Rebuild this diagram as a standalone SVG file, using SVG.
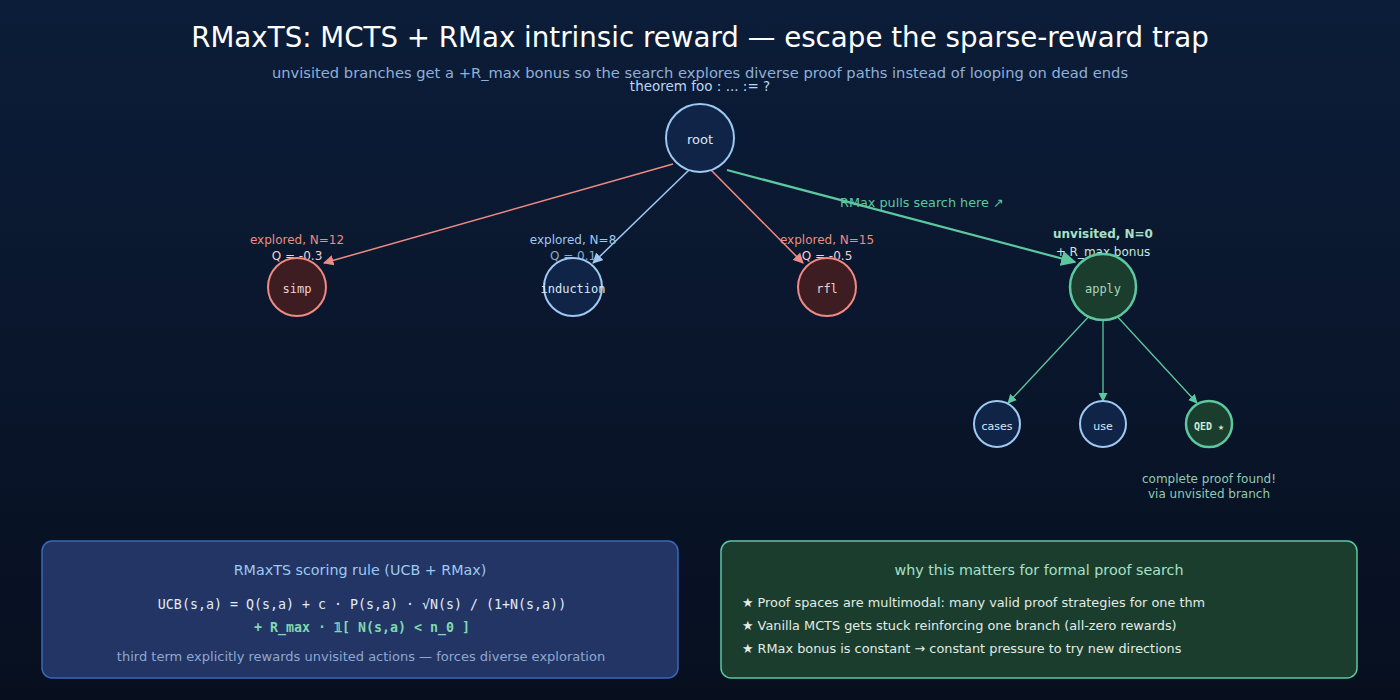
<svg xmlns="http://www.w3.org/2000/svg" width="1400" height="700" viewBox="0 0 1400 700">
<defs>
<linearGradient id="bg" x1="0" y1="0" x2="0" y2="1"><stop offset="0" stop-color="#0c1d39"/><stop offset="1" stop-color="#070f1f"/></linearGradient>
<marker id="ar" viewBox="0 0 10 10" refX="9" refY="5" markerWidth="7" markerHeight="7" orient="auto-start-reverse"><path d="M0,0L10,5L0,10z" fill="#f08a84"/></marker>
<marker id="ab" viewBox="0 0 10 10" refX="9" refY="5" markerWidth="7" markerHeight="7" orient="auto-start-reverse"><path d="M0,0L10,5L0,10z" fill="#9ec9f2"/></marker>
<marker id="ag" viewBox="0 0 10 10" refX="9" refY="5" markerWidth="7" markerHeight="7" orient="auto-start-reverse"><path d="M0,0L10,5L0,10z" fill="#5cc8a0"/></marker>
<style>
text{font-family:"DejaVu Sans",sans-serif}
.m{font-family:"DejaVu Sans Mono",monospace}
.blue{fill:#0f2446;stroke:#9ec9f2;stroke-width:2}
.red{fill:#3d1d22;stroke:#f08a84;stroke-width:2}
.grn{fill:#1b3d2d;stroke:#5cc8a0;stroke-width:2.5}
</style>
</defs>
<rect width="1400" height="700" fill="url(#bg)"/>
<text x="700" y="47" text-anchor="middle" font-size="27.7" fill="#ffffff">RMaxTS: MCTS + RMax intrinsic reward — escape the sparse-reward trap</text>
<text x="700" y="78" text-anchor="middle" font-size="14.7" fill="#8fb0d8">unvisited branches get a +R_max bonus so the search explores diverse proof paths instead of looping on dead ends</text>
<g id="connectors" fill="none">
<line x1="673" y1="164" x2="324" y2="263" stroke="#f08a84" stroke-width="1.5" marker-end="url(#ar)"/>
<line x1="689" y1="170" x2="593" y2="263" stroke="#9ec9f2" stroke-width="1.5" marker-end="url(#ab)"/>
<line x1="711" y1="170" x2="803" y2="263" stroke="#f08a84" stroke-width="1.5" marker-end="url(#ar)"/>
<line x1="727" y1="170" x2="1075" y2="262" stroke="#5cc8a0" stroke-width="2.2" marker-end="url(#ag)"/>
<line x1="1092" y1="313" x2="1008" y2="403" stroke="#5cc8a0" stroke-width="1.3" marker-end="url(#ag)"/>
<line x1="1103" y1="320" x2="1103" y2="401" stroke="#5cc8a0" stroke-width="1.3" marker-end="url(#ag)"/>
<line x1="1114" y1="313" x2="1197" y2="403" stroke="#5cc8a0" stroke-width="1.3" marker-end="url(#ag)"/>
<text x="840" y="207" font-size="12.8" fill="#5cc8a0">RMax pulls search here ↗</text>
</g>
<g id="root"><text x="700" y="91" text-anchor="middle" font-size="13.5" fill="#b8d6f6">theorem foo : ... := ?</text><circle cx="700" cy="138" r="34" class="blue"/><text x="700" y="144" text-anchor="middle" font-size="13" fill="#d8e8fa">root</text></g>
<g id="simp"><text x="297" y="244" text-anchor="middle" font-size="12" fill="#f08a84">explored, N=12</text><text x="297" y="260" text-anchor="middle" font-size="12" fill="#f0d0d0">Q = -0.3</text><circle cx="297" cy="287" r="29" class="red"/><text x="297" y="293" text-anchor="middle" font-size="12" class="m" fill="#f0d0d0">simp</text></g>
<g id="induction"><text x="573" y="244" text-anchor="middle" font-size="12" fill="#9ec9f2">explored, N=8</text><text x="573" y="260" text-anchor="middle" font-size="12" fill="#8fa8c8">Q = 0.1</text><circle cx="573" cy="287" r="29" class="blue"/><text x="573" y="293" text-anchor="middle" font-size="12" class="m" fill="#d8e8fa">induction</text></g>
<g id="rfl"><text x="827" y="244" text-anchor="middle" font-size="12" fill="#f08a84">explored, N=15</text><text x="827" y="260" text-anchor="middle" font-size="12" fill="#f0d0d0">Q = -0.5</text><circle cx="827" cy="287" r="29" class="red"/><text x="827" y="293" text-anchor="middle" font-size="12" class="m" fill="#f0d0d0">rfl</text></g>
<g id="apply"><text x="1103" y="238" text-anchor="middle" font-size="12" font-weight="bold" fill="#a8e0c8">unvisited, N=0</text><text x="1103" y="256" text-anchor="middle" font-size="12" fill="#c8e8dc">+ R_max bonus</text><circle cx="1103" cy="287" r="33" class="grn"/><text x="1103" y="293" text-anchor="middle" font-size="12" class="m" fill="#a8d8c0">apply</text></g>
<g id="cases"><circle cx="997" cy="424" r="23" class="blue" stroke-width="1.5"/><text x="997" y="430" text-anchor="middle" font-size="11" fill="#d8e8fa">cases</text></g>
<g id="use"><circle cx="1103" cy="424" r="23" class="blue" stroke-width="1.5"/><text x="1103" y="430" text-anchor="middle" font-size="11" fill="#d8e8fa">use</text></g>
<g id="qed"><circle cx="1209" cy="424" r="23" class="grn" stroke-width="2"/><text x="1209" y="430" text-anchor="middle" font-size="10" font-weight="bold" class="m" fill="#c8ecd8">QED ★</text><text x="1209" y="483" text-anchor="middle" font-size="12" fill="#8fcab4">complete proof found!</text><text x="1209" y="498" text-anchor="middle" font-size="12" fill="#8fcab4">via unvisited branch</text></g>
<g id="scoring"><rect x="42" y="541" width="636" height="137" rx="10" fill="#223565" stroke="#3a68b8" stroke-width="1.5"/>
<text x="360" y="575" text-anchor="middle" font-size="14.3" fill="#9ec9f2">RMaxTS scoring rule (UCB + RMax)</text>
<text x="362" y="609" text-anchor="middle" font-size="13.3" class="m" fill="#e0ecf8">UCB(s,a) = Q(s,a) + c · P(s,a) · √N(s) / (1+N(s,a))</text>
<text x="362" y="632" text-anchor="middle" font-size="13.3" font-weight="bold" class="m" fill="#7fd8b0">+ R_max · 𝟙[ N(s,a) &lt; n_0 ]</text>
<text x="361" y="661" text-anchor="middle" font-size="13" fill="#8fa8d0">third term explicitly rewards unvisited actions — forces diverse exploration</text></g>
<g id="why"><rect x="721" y="541" width="636" height="137" rx="10" fill="#1b3d2d" stroke="#5cc8a0" stroke-width="1.5"/>
<text x="1039" y="575" text-anchor="middle" font-size="14.3" fill="#a8e0c8">why this matters for formal proof search</text>
<text x="742" y="607" font-size="12.85" fill="#e0ece6">★ Proof spaces are multimodal: many valid proof strategies for one thm</text>
<text x="742" y="630" font-size="12.85" fill="#e0ece6">★ Vanilla MCTS gets stuck reinforcing one branch (all-zero rewards)</text>
<text x="742" y="653" font-size="12.85" fill="#e0ece6">★ RMax bonus is constant → constant pressure to try new directions</text></g>
</svg>
